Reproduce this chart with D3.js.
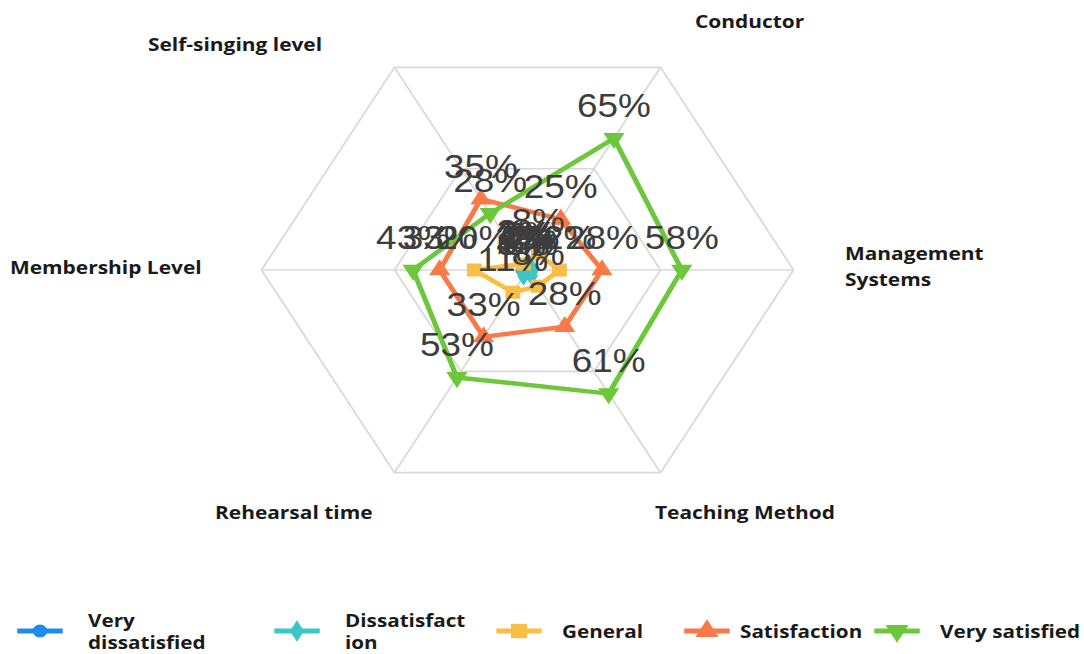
<!DOCTYPE html>
<html>
<head>
<meta charset="utf-8">
<script src="https://cdn.jsdelivr.net/npm/d3@7"></script>
<style>
  html, body { margin: 0; padding: 0; background: #ffffff; }
  svg { display: block; }
</style>
</head>
<body>
<svg id="chart" width="1084" height="654"></svg>
<script>
// Radar axes, clockwise starting from the upper-right spoke
const categories = ["Conductor", "Management Systems", "Teaching Method", "Rehearsal time", "Membership Level", "Self-singing level"];

// Share of respondents (%) per axis, same order as categories
const veryDissatisfied = [0, 0, 0, 0, 2, 2];
const dissatisfaction  = [2, 2, 3, 3, 2, 2];
const general          = [8, 12, 8, 11, 20, 3];
const satisfaction     = [25, 28, 28, 33, 33, 35];
const verySatisfied    = [65, 58, 61, 53, 43, 28];

const seriesNames = ["Very dissatisfied", "Dissatisfaction", "General", "Satisfaction", "Very satisfied"];
const legendLabels = [["Very", "dissatisfied"], ["Dissatisfact", "ion"], ["General"], ["Satisfaction"], ["Very satisfied"]];
const gridLevels = [50, 100];

const seriesValues = [veryDissatisfied, dissatisfaction, general, satisfaction, verySatisfied];
const colors = ["#1E8CEB", "#3CC6C6", "#F9BE45", "#F97A48", "#6CC83A"];
const symbols = [d3.symbolCircle, d3.symbolDiamond, d3.symbolSquare, d3.symbolTriangle, d3.symbolTriangle];
const symbolRotate = [0, 0, 0, 0, 180];
const symbolSize = [110, 110, 170, 150, 150];

// The whole drawing is widened horizontally
const sx = 1.137;
const svg = d3.select("#chart");
const root = svg.append("g").attr("transform", `scale(${sx},1)`);

const cx = 527.5 / sx, cy = 270, R = 234;
const r = d3.scaleLinear().domain([0, 100]).range([0, R]);
const angle = d3.scalePoint().domain(categories).range([-60, 240]);
const pt = (cat, v) => {
  const a = angle(cat) * Math.PI / 180;
  return [cx + r(v) * Math.cos(a), cy + r(v) * Math.sin(a)];
};

// grid rings and spokes
const grid = root.append("g");
gridLevels.forEach(lv => {
  grid.append("path")
    .attr("d", d3.line()(categories.map(c => pt(c, lv))) + "Z")
    .attr("fill", "none").attr("stroke", "#d9d9d9").attr("stroke-width", 1.6);
});
categories.forEach(c => {
  const [x, y] = pt(c, 100);
  grid.append("line").attr("x1", cx).attr("y1", cy).attr("x2", x).attr("y2", y)
    .attr("stroke", "#d9d9d9").attr("stroke-width", 1.6);
});

// series polygons and markers
const line = d3.line();
seriesValues.forEach((vals, si) => {
  const pts = categories.map((c, i) => pt(c, vals[i]));
  const g = root.append("g");
  g.append("path").attr("d", line(pts) + "Z")
    .attr("fill", "none").attr("stroke", colors[si]).attr("stroke-width", 4.5)
    .attr("stroke-linejoin", "round");
  g.selectAll("path.m").data(pts).join("path").attr("class", "m")
    .attr("d", d3.symbol(symbols[si], symbolSize[si]))
    .attr("transform", d => `translate(${d[0]},${d[1]}) rotate(${symbolRotate[si]})`)
    .attr("fill", colors[si]);
});

// value labels, centred above each point
const labels = root.append("g");
seriesValues.forEach((vals, si) => {
  categories.forEach((c, i) => {
    const [x, y] = pt(c, vals[i]);
    labels.append("text")
      .attr("x", x).attr("y", y - 33).attr("dy", "0.36em")
      .attr("text-anchor", "middle")
      .attr("font-family", "'Liberation Sans', Arial, sans-serif")
      .attr("font-size", 32.5)
      .attr("fill", "#3d3d3d")
      .text(vals[i] + "%");
  });
});

// axis titles
const axisTitle = [
  { lines: ["Conductor"], x: 695, y: 28 },
  { lines: ["Management", "Systems"], x: 845, y: 260 },
  { lines: ["Teaching Method"], x: 655, y: 519 },
  { lines: ["Rehearsal time"], x: 215, y: 519 },
  { lines: ["Membership Level"], x: 10, y: 274 },
  { lines: ["Self-singing level"], x: 148, y: 51 }
];
const titles = root.append("g")
  .attr("font-family", "'Open Sans', 'Liberation Sans', sans-serif")
  .attr("font-weight", 700).attr("font-size", 18.4).attr("fill", "#1a1a1a");
axisTitle.forEach(t => {
  const txt = titles.append("text").attr("x", t.x / sx).attr("y", t.y);
  t.lines.forEach((ln, k) => txt.append("tspan").attr("x", t.x / sx).attr("dy", k ? 26 : 0).text(ln));
});

// legend
const legendX = [40, 297, 519, 707, 897];
const legendTextX = [88, 345, 562, 740, 940];
const legend = root.append("g");
seriesNames.forEach((name, si) => {
  const mx = legendX[si] / sx, my = 631;
  legend.append("line").attr("x1", mx - 20).attr("x2", mx + 20).attr("y1", my).attr("y2", my)
    .attr("stroke", colors[si]).attr("stroke-width", 5);
  legend.append("path")
    .attr("d", d3.symbol(symbols[si], symbolSize[si] * 1.2))
    .attr("transform", `translate(${mx},${my}) rotate(${symbolRotate[si]})`)
    .attr("fill", colors[si]);
  const lines = legendLabels[si];
  const txt = legend.append("text")
    .attr("font-family", "'Open Sans', 'Liberation Sans', sans-serif")
    .attr("font-weight", 700).attr("font-size", 18.2).attr("fill", "#1a1a1a");
  const y0 = lines.length === 1 ? 638 : 627;
  lines.forEach((ln, k) => txt.append("tspan").attr("x", legendTextX[si] / sx).attr("y", y0 + k * 22).text(ln));
});
</script>
</body>
</html>
